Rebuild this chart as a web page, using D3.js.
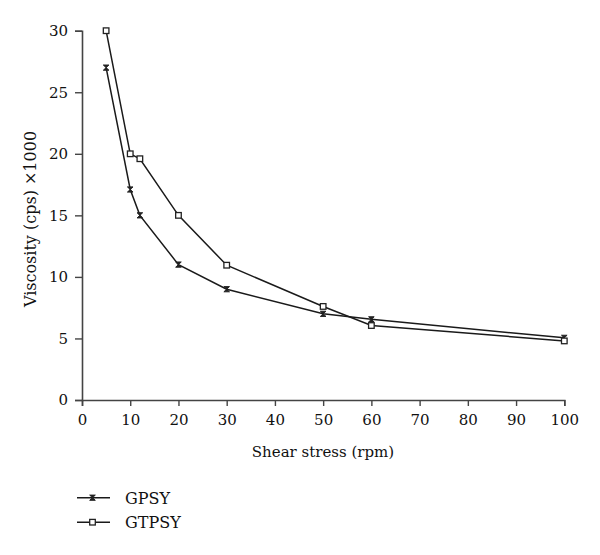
<!DOCTYPE html>
<html>
<head>
<meta charset="utf-8">
<script src="https://cdn.jsdelivr.net/npm/d3@7"></script>
<style>
  body { margin: 0; background: #fff; }
</style>
</head>
<body>
<svg id="chart" width="600" height="555"></svg>
<script>
// data
const shear = [5, 10, 12, 20, 30, 50, 60, 100];
const gpsy = [27, 17.1, 15, 11, 9, 7, 6.55, 5.05];
const gtpsy = [30, 20, 19.6, 15, 10.95, 7.6, 6.05, 4.8];
const xTicks = [0, 10, 20, 30, 40, 50, 60, 70, 80, 90, 100];
const yTicks = [0, 5, 10, 15, 20, 25, 30];

const FONT = "'DejaVu Serif', 'Liberation Serif', serif";

const margin = {top: 30.7, left: 82};
const width = 564.3 - margin.left;
const height = 400 - margin.top;

const svg = d3.select("#chart");
const g = svg.append("g")
    .attr("transform", "translate(" + margin.left + "," + margin.top + ")");

const x = d3.scaleLinear().domain([0, 100]).range([0, width]);
const y = d3.scaleLinear().domain([0, 30]).range([height, 0]);

// axes
const xAxis = g.append("g")
    .attr("transform", "translate(0," + height + ")")
    .call(d3.axisBottom(x).tickValues(xTicks).tickSize(6).tickPadding(8));
const yAxis = g.append("g")
    .call(d3.axisLeft(y).tickValues(yTicks).tickSize(7).tickPadding(7));

[xAxis, yAxis].forEach(a => {
    a.attr("font-family", FONT).attr("font-size", 15);
    a.select(".domain").attr("stroke", "#444").attr("stroke-width", 1.6);
    a.selectAll(".tick line").attr("stroke", "#444").attr("stroke-width", 1.4);
    a.selectAll(".tick text").attr("fill", "#111");
});

// axis titles
svg.append("text")
    .attr("x", 323)
    .attr("y", 457)
    .attr("text-anchor", "middle")
    .attr("font-family", FONT)
    .attr("font-size", 15)
    .attr("fill", "#111")
    .text("Shear stress (rpm)");

svg.append("text")
    .attr("transform", "translate(36,219) rotate(-90)")
    .attr("text-anchor", "middle")
    .attr("font-family", FONT)
    .attr("font-size", 16)
    .attr("fill", "#111")
    .text("Viscosity (cps) \u00d71000");

const line = d3.line()
    .x(d => x(d[0]))
    .y(d => y(d[1]));

const series = [
    {name: "GPSY", values: shear.map((s, i) => [s, gpsy[i]]), marker: "star"},
    {name: "GTPSY", values: shear.map((s, i) => [s, gtpsy[i]]), marker: "square"}
];

function drawMarker(sel, type) {
    if (type === "square") {
        sel.append("rect")
            .attr("x", -2.8).attr("y", -2.8)
            .attr("width", 5.6).attr("height", 5.6)
            .attr("fill", "#fff")
            .attr("stroke", "#222")
            .attr("stroke-width", 1.3);
    } else {
        sel.append("path")
            .attr("d", "M-2.8,-2.6L2.8,-2.6L-2.8,2.6L2.8,2.6Z")
            .attr("fill", "#222")
            .attr("stroke", "#222")
            .attr("stroke-width", 1);
    }
}

series.forEach(s => {
    g.append("path")
        .datum(s.values)
        .attr("d", line)
        .attr("fill", "none")
        .attr("stroke", "#1a1a1a")
        .attr("stroke-width", 1.5);

    g.selectAll(".m-" + s.name)
        .data(s.values)
        .enter()
        .append("g")
        .attr("class", "m-" + s.name)
        .attr("transform", d => "translate(" + x(d[0]) + "," + y(d[1]) + ")")
        .each(function () { drawMarker(d3.select(this), s.marker); });
});

// legend
const legend = svg.append("g");
series.forEach((s, i) => {
    const ly = 497.7 + i * 24.5;
    const item = legend.append("g").attr("transform", "translate(0," + ly + ")");
    item.append("line")
        .attr("x1", 77).attr("x2", 110)
        .attr("stroke", "#1a1a1a").attr("stroke-width", 1.5);
    const m = item.append("g").attr("transform", "translate(92.5,0)");
    drawMarker(m, s.marker);
    item.append("text")
        .attr("x", 125)
        .attr("y", 6)
        .attr("font-family", FONT)
        .attr("font-size", 16)
        .attr("fill", "#111")
        .text(s.name);
});
</script>
</body>
</html>
